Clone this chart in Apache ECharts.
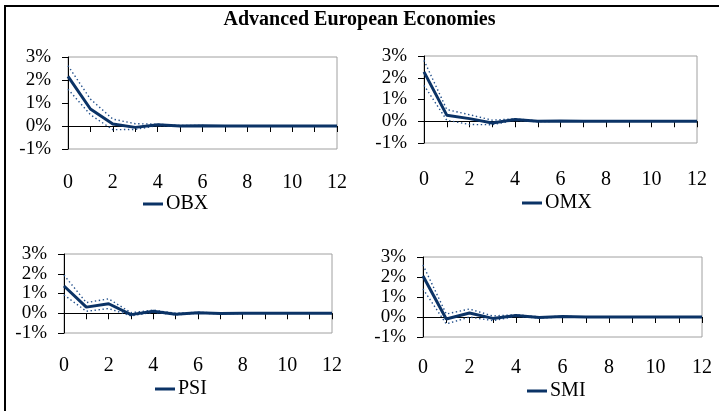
<!DOCTYPE html>
<html>
<head>
<meta charset="utf-8">
<script src="https://cdn.jsdelivr.net/npm/echarts@6/dist/echarts.min.js"></script>
<style>
  html, body { margin: 0; padding: 0; background: #fff; }
  #chart { width: 719px; height: 411px; }
</style>
</head>
<body>
<div id="chart"></div>
<script>
// Impulse responses (in %) over 12 periods, with upper/lower bands
var lags = ['0', '1', '2', '3', '4', '5', '6', '7', '8', '9', '10', '11', '12'];

var obx      = [2.16, 0.74, 0.09, -0.06, 0.05, 0.00, 0.01, 0.00, 0.00, 0.00, 0.00, 0.00, 0.00];
var obxUpper = [2.62, 1.17, 0.30, 0.10, 0.08, 0.02, 0.02, 0.01, 0.01, 0.00, 0.00, 0.00, 0.00];
var obxLower = [1.60, 0.49, -0.16, -0.15, 0.02, -0.02, 0.00, -0.01, 0.00, 0.00, 0.00, 0.00, 0.00];

var omx      = [2.27, 0.28, 0.12, -0.08, 0.08, 0.00, 0.01, 0.00, 0.00, 0.00, 0.00, 0.00, 0.00];
var omxUpper = [2.80, 0.54, 0.30, 0.05, 0.11, 0.02, 0.02, 0.01, 0.01, 0.00, 0.00, 0.00, 0.00];
var omxLower = [1.65, 0.05, -0.15, -0.16, 0.04, -0.02, 0.00, -0.01, 0.00, 0.00, 0.00, 0.00, 0.00];

var psi      = [1.38, 0.31, 0.48, -0.07, 0.10, -0.05, 0.02, -0.01, 0.00, 0.00, 0.00, 0.00, 0.00];
var psiUpper = [1.93, 0.54, 0.73, 0.03, 0.16, 0.00, 0.05, 0.01, 0.01, 0.00, 0.00, 0.00, 0.00];
var psiLower = [0.93, 0.10, 0.24, -0.13, 0.05, -0.08, 0.00, -0.02, -0.01, 0.00, 0.00, 0.00, 0.00];

var smi      = [2.05, -0.10, 0.20, -0.07, 0.08, -0.02, 0.02, 0.00, 0.00, 0.00, 0.00, 0.00, 0.00];
var smiUpper = [2.60, 0.15, 0.40, 0.05, 0.12, 0.01, 0.03, 0.01, 0.01, 0.00, 0.00, 0.00, 0.00];
var smiLower = [1.40, -0.35, 0.00, -0.18, 0.03, -0.05, 0.00, -0.01, 0.00, 0.00, 0.00, 0.00, 0.00];

var yTicks = { min: -1, max: 3, interval: 1 };

var FONT = '"Liberation Serif", "Times New Roman", serif';
var NAVY = '#0b3366';
var DOT = '#24518c';

var panels = [
  { name: 'OBX', main: obx, up: obxUpper, lo: obxLower,
    grid: { left: 68, top: 57, width: 269, height: 92 }, labelMargin: 24,
    legend: { left: 138, top: 189 } },
  { name: 'OMX', main: omx, up: omxUpper, lo: omxLower,
    grid: { left: 424, top: 56, width: 273, height: 87 }, labelMargin: 27,
    legend: { left: 517, top: 188 } },
  { name: 'PSI', main: psi, up: psiUpper, lo: psiLower,
    grid: { left: 64, top: 254, width: 268, height: 79 }, labelMargin: 23,
    legend: { left: 150, top: 374 } },
  { name: 'SMI', main: smi, up: smiUpper, lo: smiLower,
    grid: { left: 423, top: 257, width: 279, height: 80 }, labelMargin: 21,
    legend: { left: 522, top: 376 } }
];

var grids = [], xAxes = [], yAxes = [], series = [], legends = [];

panels.forEach(function (p, i) {
  grids.push(Object.assign({ show: true, borderColor: '#a0a0a0', borderWidth: 1, containLabel: false }, p.grid));

  // axis drawn through the zero line, with ticks at every period
  xAxes.push({
    type: 'category', gridIndex: i, data: lags, boundaryGap: false, position: 'bottom',
    axisLine: { onZero: true, lineStyle: { color: '#000', width: 1 } },
    axisTick: { show: true, interval: 0, length: 6, lineStyle: { color: '#000' } },
    axisLabel: { show: false }, splitLine: { show: false }
  });
  // period labels along the bottom of the plot
  xAxes.push({
    type: 'category', gridIndex: i, data: lags, boundaryGap: false, position: 'bottom',
    axisLine: { show: false, onZero: false }, axisTick: { show: false },
    axisLabel: { show: true, interval: 1, margin: p.labelMargin, color: '#000',
                 fontFamily: FONT, fontSize: 20 },
    splitLine: { show: false }
  });

  yAxes.push({
    type: 'value', gridIndex: i, min: yTicks.min, max: yTicks.max, interval: yTicks.interval,
    axisLine: { show: true, lineStyle: { color: '#000', width: 1 } },
    axisTick: { show: true, length: 6, lineStyle: { color: '#000' } },
    axisLabel: { formatter: '{value}%', color: '#000', fontFamily: FONT, fontSize: 19, margin: 17 },
    splitLine: { show: false }
  });

  var band = function (data, nm) {
    return {
      type: 'line', name: nm, xAxisIndex: i * 2, yAxisIndex: i, data: data,
      symbol: 'none', silent: true, z: 3,
      lineStyle: { color: DOT, width: 1.4, type: [1.4, 2.6] }
    };
  };
  series.push(band(p.up, p.name + ' upper'));
  series.push(band(p.lo, p.name + ' lower'));
  series.push({
    type: 'line', name: p.name, xAxisIndex: i * 2, yAxisIndex: i, data: p.main,
    symbol: 'none', z: 4, color: NAVY,
    lineStyle: { color: NAVY, width: 3 }
  });

  legends.push({
    data: [p.name], left: p.legend.left, top: p.legend.top, icon: 'rect',
    itemWidth: 20, itemHeight: 3, itemGap: 4, selectedMode: false,
    textStyle: { color: '#000', fontFamily: FONT, fontSize: 20, padding: [0, 0, 0, -2] }
  });
});

var chart = echarts.init(document.getElementById('chart'), null, { renderer: 'canvas' });
chart.setOption({
  animation: false,
  backgroundColor: '#fff',
  title: {
    text: 'Advanced European Economies', left: 'center', top: 5,
    textStyle: { fontFamily: FONT, fontWeight: 'bold', fontSize: 20, color: '#000' }
  },
  graphic: [{
    type: 'rect', shape: { x: 5, y: 6, width: 730, height: 430 },
    style: { fill: 'none', stroke: '#000', lineWidth: 2 }, silent: true
  }],
  legend: legends,
  grid: grids,
  xAxis: xAxes,
  yAxis: yAxes,
  series: series
});
</script>
</body>
</html>
